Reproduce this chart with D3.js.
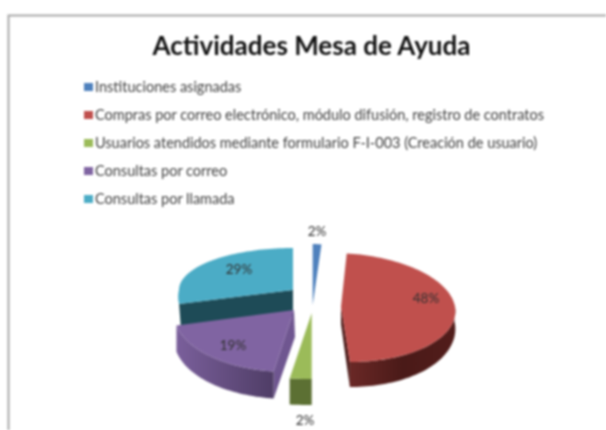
<!DOCTYPE html>
<html><head><meta charset="utf-8">
<script src="https://cdn.jsdelivr.net/npm/d3@7/dist/d3.min.js"></script>
<style>html,body{margin:0;padding:0;background:#fff}svg{display:block;filter:blur(1.1px)}</style>
</head><body><div id="c"></div>
<script>
const categories=["Instituciones asignadas","Compras por correo electrónico, módulo difusión, registro de contratos","Usuarios atendidos mediante formulario F-I-003 (Creación de usuario)","Consultas por correo","Consultas por llamada"];
const values=[2,48,2,19,29];
const labels=["2%","48%","2%","19%","29%"];
const topColors=["#4f81bd","#c0504d","#9bbb59","#8064a2","#4bacc6"];
const title="Actividades Mesa de Ayuda";
// per-slice projection: apex, radii (back/front), shear, depth (front/side), label position
const geom=[
 {ax:312.7,ay:305,rx:70,ryB:61,ryF:61,k:0,kF:0,d:0,ds:0,lx:317,ly:231},
 {ax:341,ay:307,rx:114,ryB:54,ryF:55,k:.16,kF:.16,d:25,ds:17,lx:426,ly:298},
 {ax:311.7,ay:313,rx:176,ryB:66,ryF:66,k:0,kF:0,d:26,ds:26,lx:305,ly:420},
 {ax:294,ay:310,rx:120,ryB:56,ryF:62,k:-.086,kF:-.086,d:27,ds:26,lx:233,ly:345.5},
 {ax:293,ay:290,rx:114,ryB:42,ryF:56,k:0,kF:-.25,d:19,ds:19,lx:239,ly:269}
];
const wallStops=[[],[["0","#6a2826"],[".5","#4a1a18"],["1","#521d1b"]],[["0","#5c7033"],["1","#5c7033"]],[["0","#7a5f9b"],["1","#4f3d66"]],[]];
const W=606,H=430;
const svg=d3.select("#c").append("svg").attr("width",W).attr("height",H);
const defs=svg.append("defs");
svg.append("path").attr("d",`M8.5 ${H}V15.5H${W}`).attr("fill","none").attr("stroke","#a8a8a8").attr("stroke-width",2);
svg.append("text").attr("x",311.5).attr("y",55).attr("text-anchor","middle").attr("font-family","Lato").attr("font-weight",700).attr("font-size",26).attr("fill","#111").text(title);
const ly=d3.scalePoint().domain(categories).range([87,199]);
const leg=svg.append("g").selectAll("g").data(categories).join("g").attr("transform",d=>`translate(0,${ly(d)})`);
leg.append("rect").attr("x",84).attr("y",-4).attr("width",9).attr("height",8).attr("fill",(d,i)=>topColors[i]);
leg.append("text").attr("x",95).attr("y",4.5).attr("font-family","Lato").attr("font-size",14.5).attr("fill","#404040").text(d=>d);
const arcs=d3.pie().sort(null).value(d=>d).startAngle(0).endAngle(2*Math.PI)(values);
function pt(g,t){const s=Math.sin(t),c=Math.cos(t),ry=c>=0?g.ryB:g.ryF,dy=-ry*c,k=dy>0?g.kF:g.k;
 return [g.ax+g.rx*s+k*dy,g.ay+dy];}
const depth=(g,t)=>g.ds+(g.d-g.ds)*Math.max(0,-Math.cos(t));
const line=d3.line();
const angles=(a,b)=>{const n=Math.max(2,Math.ceil((b-a)/0.03));return d3.range(n+1).map(i=>a+(b-a)*i/n);};
const pies=svg.append("g");
[0,4,3,2,1].forEach(i=>{
 const a=arcs[i],g=geom[i],gp=pies.append("g"),s0=a.startAngle,s1=a.endAngle,apex=[g.ax,g.ay];
 if(i===4){
  const p=pt(g,s0);
  gp.append("path").attr("d",line([p,apex,[apex[0],apex[1]+g.d+8],[p[0]+2,p[1]+g.d+8]])+"Z").attr("fill","#1e4b57");
 }else if(g.d>0){
  const wa=i===1?Math.PI/2-0.05:s0;
  const ts=angles(wa,s1);
  const upper=ts.map(t=>pt(g,t));
  const lower=ts.map(t=>{const p=pt(g,t);return [p[0],p[1]+depth(g,t)];}).reverse();
  const xs=upper.map(d=>d[0]);
  const id="w"+i,gr=defs.append("linearGradient").attr("id",id).attr("gradientUnits","userSpaceOnUse").attr("x1",d3.min(xs)).attr("x2",d3.max(xs));
  wallStops[i].forEach(s=>gr.append("stop").attr("offset",s[0]).attr("stop-color",s[1]));
  if(i===1){const e=pt(g,s1);
   gp.append("path").attr("d",line([apex,e,[e[0],e[1]+g.d],[apex[0],apex[1]+g.ds]])+"Z").attr("fill","#4a1a18");}
  if(i===3){const e=pt(g,s0);
   gp.append("path").attr("d",line([apex,e,[e[0],e[1]+g.d],[apex[0]+1,apex[1]+g.d]])+"Z").attr("fill","#6f5690");}
  gp.append("path").attr("d",line([...upper,...lower])+"Z").attr("fill",`url(#${id})`);
 }
 gp.append("path").attr("d",line([apex,...angles(s0,s1).map(t=>pt(g,t))])+"Z").attr("fill",topColors[i]);
});
svg.append("g").selectAll("text").data(labels).join("text")
 .attr("x",(d,i)=>geom[i].lx).attr("y",(d,i)=>geom[i].ly+4.5).attr("text-anchor","middle")
 .attr("font-family","Lato").attr("font-size",13.5).attr("fill","#303030").text(d=>d);
</script></body></html>
